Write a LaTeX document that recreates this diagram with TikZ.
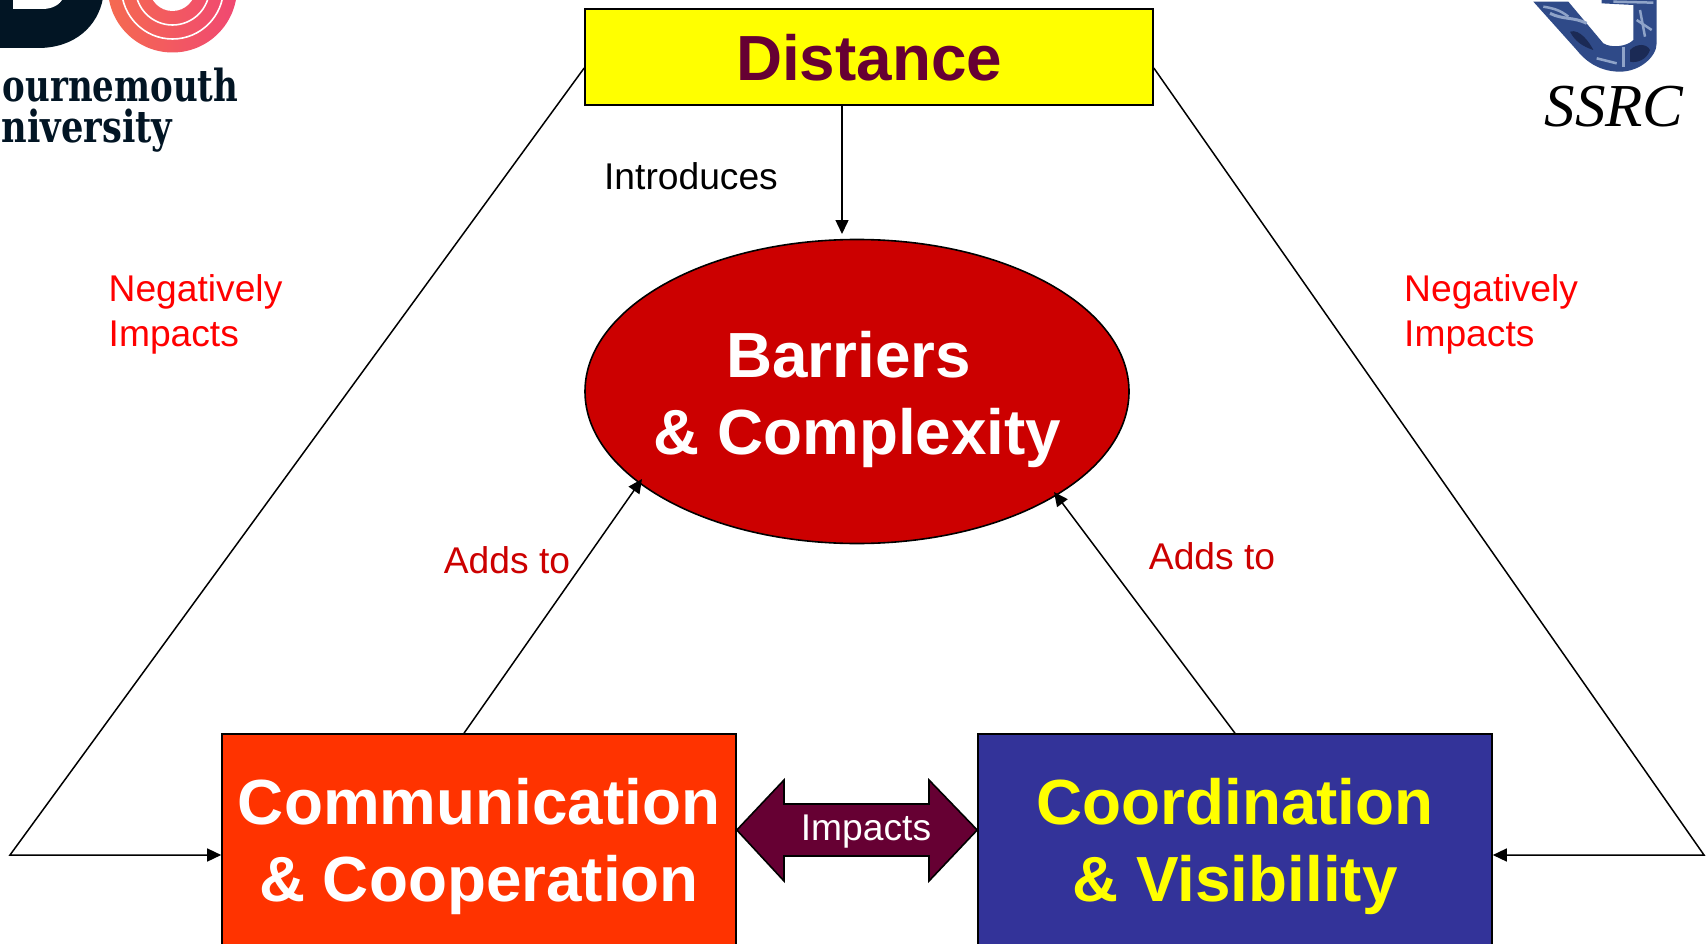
\documentclass[tikz,border=0pt]{standalone}
\usepackage{fontspec}
\usepackage{graphicx}
\setmainfont{Liberation Sans}
\newfontfamily\slabfont{DejaVu Serif}
\newfontfamily\ssrcfont{Liberation Serif}
\usetikzlibrary{arrows.meta,shapes.geometric,calc}
\definecolor{plum}{HTML}{660033}
\definecolor{pureyellow}{RGB}{255,255,0}
\definecolor{barred}{HTML}{CC0000}
\definecolor{commorange}{HTML}{FF3300}
\definecolor{coordblue}{HTML}{333399}
\definecolor{pure red}{RGB}{255,0,0}
\definecolor{bunavy}{HTML}{021524}
\definecolor{ringa}{HTML}{F56A50}
\definecolor{ringb}{HTML}{F04872}
\definecolor{marble}{HTML}{2F4A88}
\definecolor{marbledark}{HTML}{1B2A55}
\definecolor{marblelight}{HTML}{8FA3C8}
\tikzset{
  x=1pt,y=-1pt,
  box/.style={draw=black,line width=1.6pt,rectangle,inner sep=0pt,align=center},
  bigtext/.style={font=\fontsize{63.8}{77}\selectfont\bfseries},
  lbl/.style={font=\fontsize{37.2}{45}\selectfont,inner sep=0pt},
  conn/.style={draw=black,line width=1.5pt},
  arr/.style={conn,-{Triangle[length=14pt,width=13pt]}},
}
\begin{document}
\begin{tikzpicture}
\useasboundingbox (0,0) rectangle (1707,944);
\clip (0,0) rectangle (1707,944);
\fill[white] (0,0) rectangle (1707,944);
% Bournemouth logo
\fill[bunavy] (-2,-2) -- (103,-2) .. controls (98,26) and (75,48) .. (38,48) -- (-2,48) -- cycle;
\fill[white] (13,-2) -- (63,-2) .. controls (60,5) and (52,9) .. (42,9) -- (13,9) -- cycle;
\shade[left color=ringa,right color=ringb] (172.5,-12) circle[radius=64.5];
\draw[white,line width=1.6pt] (172.5,-12) circle[radius=51];
\draw[white,line width=1.6pt] (172.5,-12) circle[radius=37];
\fill[white] (172.5,-12) circle[radius=23];
\node[anchor=base east,inner sep=0pt,text=bunavy] (bu1) at (238.5,102) {\scalebox{0.81}[1.05]{\fontsize{42}{42}\slabfont\bfseries ournemouth}};
\node[anchor=base east,inner sep=0pt,text=bunavy] (bu2) at (172.5,143) {\scalebox{0.84}[1.05]{\fontsize{42}{42}\slabfont\bfseries niversity}};
% SSRC logo
\begin{scope}[shift={(1480,0)},x=0.3333pt,y=-0.3333pt]
\fill[marble] (160,5) -- (265,5) -- (370,130) .. controls (395,145) and (440,140) .. (460,120) -- (460,15) -- (365,10) -- (365,-5) -- (530,-5) -- (530,130) .. controls (530,170) and (480,215) .. (420,215) .. controls (350,215) and (310,175) .. (290,150) -- cycle;
\draw[marblelight,line width=3pt] (210,40) .. controls (250,60) and (280,50) .. (320,70);
\draw[marblelight,line width=2.5pt] (190,20) .. controls (220,25) and (240,30) .. (265,50);
\draw[marblelight,line width=2.5pt] (480,30) -- (495,110);
\draw[marblelight,line width=2.5pt] (470,60) -- (515,90);
\draw[marblelight,line width=3pt] (430,140) -- (430,200);
\draw[marblelight,line width=2.5pt] (350,175) -- (410,190);
\draw[marblelight,line width=2.5pt] (400,5) -- (520,8);
\fill[marbledark] (270,95) .. controls (300,85) and (330,130) .. (340,150) .. controls (310,140) and (285,125) .. (270,95) -- cycle;
\fill[marbledark] (450,150) .. controls (470,130) and (500,130) .. (510,150) .. controls (500,180) and (470,190) .. (450,185) -- cycle;
\end{scope}
\node[anchor=base,inner sep=0pt,font=\fontsize{61}{61}\selectfont\ssrcfont\itshape] (ssrc) at (1614,127) {SSRC};
% main nodes
\node[box,fill=pureyellow,minimum width=568pt,minimum height=96pt] (distance) at (869,57) {};
\node[inner sep=0pt,bigtext,text=plum] (distancetext) at (869,58) {Distance};
\node[draw=black,line width=1.6pt,ellipse,fill=barred,minimum width=544pt,minimum height=304pt,inner sep=0pt] (barriers) at (857,391.5) {};
\node[inner sep=0pt,align=center,bigtext,text=white] (barrierstext) at (857.5,400) {Barriers\hspace*{18pt}\\\& Complexity};
\node[box,fill=commorange,minimum width=514pt,minimum height=225pt,bigtext,text=white] (comm) at (479,846.5) {Communication\\\& Cooperation};
\node[box,fill=coordblue,minimum width=514pt,minimum height=225pt,bigtext,text=pureyellow] (coord) at (1235,846.5) {Coordination\\\& Visibility};
% coordinates for bends and free ends
\coordinate (lbend) at (10,855);
\coordinate (rbend) at (1704,855);
\coordinate (bartop) at (842,234);
\coordinate (barleft) at (642,479);
\coordinate (barright) at (1054,492);
% connectors
\draw[arr] ([yshift=-11pt]distance.west) -- (lbend) -- ([yshift=-8.5pt]comm.west);
\draw[arr] ([yshift=-11pt]distance.east) -- (rbend) -- ([yshift=-8.5pt]coord.east);
\draw[arr] (distance.south -| bartop) -- (bartop);
\draw[arr] ([xshift=-15pt]comm.north) -- (barleft);
\draw[arr] (coord.north) -- (barright);
% double arrow
\draw[line width=1.6pt,fill=plum,line join=miter] (comm.east |- 0,830) -- (784,780) -- (784,804) -- (929,804) -- (929,780) -- (coord.west |- 0,830) -- (929,881) -- (929,856) -- (784,856) -- (784,881) -- cycle;
\node[lbl,text=white] (impacts) at (866,832) {Impacts};
% labels
\node[lbl] (intro) at (691,176.5) {Introduces};
\node[lbl,text=pure red,anchor=north west,align=left] (negl) at (108.5,274) {Negatively\\Impacts};
\node[lbl,text=pure red,anchor=north west,align=left] (negr) at (1404,274) {Negatively\\Impacts};
\node[lbl,text=barred] (addl) at (507,560.5) {Adds to};
\node[lbl,text=barred] (addr) at (1212,556) {Adds to};
\end{tikzpicture}
\end{document}
